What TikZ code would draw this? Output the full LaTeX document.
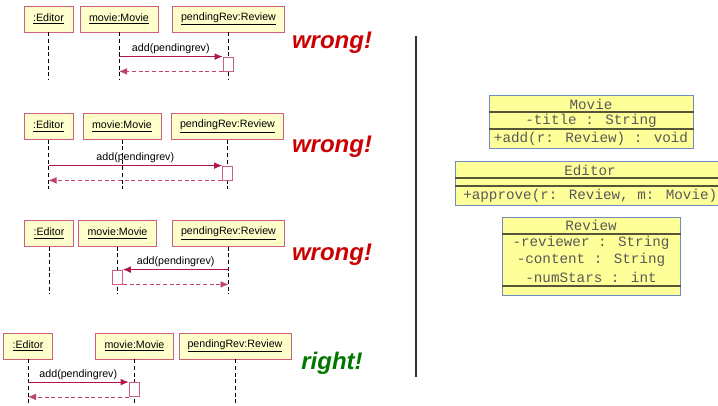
\documentclass[tikz,border=0pt]{standalone}
\usepackage{fontspec}
\setmainfont{Liberation Sans}
\newfontfamily\classfont{Liberation Mono}
\usepackage{xcolor}
\usepackage{tikz}
\usetikzlibrary{arrows.meta,positioning,calc}

\definecolor{objfill}{RGB}{255,255,204}
\definecolor{objline}{RGB}{205,95,125}
\definecolor{msgcol}{RGB}{175,20,75}
\definecolor{wrongred}{RGB}{204,0,0}
\definecolor{rightgreen}{RGB}{0,120,0}
\definecolor{classfill}{RGB}{255,255,153}
\definecolor{classline}{RGB}{110,140,190}
\definecolor{sepcol}{RGB}{85,85,55}

\begin{document}
\begin{tikzpicture}[x=0.75pt, y=-0.75pt,
    objbox/.style={draw=objline, fill=objfill, minimum height=19.5pt, inner sep=1pt, font=\fontsize{8}{9}\selectfont},
    editorbox/.style={objbox, minimum width=36.75pt},
    moviebox/.style={objbox, minimum width=58.5pt},
    reviewbox/.style={objbox, minimum width=84pt},
    lifeline/.style={draw=black, line width=0.5pt, dash pattern=on 3pt off 2pt},
    actbox/.style={draw=objline, fill=white, minimum width=7.5pt, minimum height=10.5pt, inner sep=0pt, line width=0.6pt},
    msg/.style={-{Latex[length=6pt,width=5pt]}, draw=msgcol, line width=0.6pt},
    ret/.style={-{Latex[length=6pt,width=5pt]}, draw=msgcol!80, line width=0.6pt, dash pattern=on 3pt off 2pt},
    msglabel/.style={above, inner sep=1.5pt, font=\fontsize{8}{9}\selectfont},
    verdict/.style={font=\fontsize{18}{20}\selectfont\bfseries\itshape},
    classbox/.style={draw=classline, fill=classfill, line width=0.6pt, inner sep=0pt, anchor=north west},
    classtext/.style={font=\classfont\fontsize{10.7}{12}\selectfont, text=black!65, inner sep=0pt},
    sepline/.style={draw=sepcol, line width=0.8pt}
]
    \useasboundingbox (0,0) rectangle (718,405);
    \clip (0,0) rectangle (718,405);

    % first attempt
    \node[editorbox] (e1) at (48.5,19) {\underline{:Editor}};
    \node[moviebox] (m1) at (119,19) {\underline{movie:Movie}};
    \node[reviewbox] (r1) at (228.5,19) {\underline{pendingRev:Review}};
    \coordinate (e1end) at (e1 |- 0,80);
    \coordinate (m1end) at (m1 |- 0,80);
    \coordinate (r1end) at (r1 |- 0,80);
    \draw[lifeline] (e1) -- (e1end);
    \draw[lifeline] (m1) -- (m1end);
    \draw[lifeline] (r1) -- (r1end);
    \node[actbox] (a1) at (228,64) {};
    \draw[msg] (m1 |- a1.north) -- node[msglabel] {add(pendingrev)} (a1.north west);
    \draw[ret] (a1.south west) -- (m1 |- a1.south);
    \node[verdict, text=wrongred] (v1) at (332,43) {wrong!};

    % second attempt
    \node[editorbox] (e2) at (48.5,126.5) {\underline{:Editor}};
    \node[moviebox] (m2) at (122,126.5) {\underline{movie:Movie}};
    \node[reviewbox] (r2) at (227.5,126.5) {\underline{pendingRev:Review}};
    \coordinate (e2end) at (e2 |- 0,189);
    \coordinate (m2end) at (m2 |- 0,189);
    \coordinate (r2end) at (r2 |- 0,189);
    \draw[lifeline] (e2) -- (e2end);
    \draw[lifeline] (m2) -- (m2end);
    \draw[lifeline] (r2) -- (r2end);
    \node[actbox] (a2) at (227.5,173) {};
    \draw[msg] (e2 |- a2.north) -- node[msglabel] {add(pendingrev)} (a2.north west);
    \draw[ret] (a2.south west) -- (e2 |- a2.south);
    \node[verdict, text=wrongred] (v2) at (332,147) {wrong!};

    % third attempt
    \node[editorbox] (e3) at (49,233.5) {\underline{:Editor}};
    \node[moviebox] (m3) at (117.5,233.5) {\underline{movie:Movie}};
    \node[reviewbox] (r3) at (228.5,233.5) {\underline{pendingRev:Review}};
    \coordinate (e3end) at (e3 |- 0,294);
    \coordinate (m3end) at (m3 |- 0,294);
    \coordinate (r3end) at (r3 |- 0,294);
    \draw[lifeline] (e3) -- (e3end);
    \draw[lifeline] (m3) -- (m3end);
    \draw[lifeline] (r3) -- (r3end);
    \node[actbox] (a3) at (117.5,277) {};
    \draw[msg] (r3 |- a3.north) -- node[msglabel] {add(pendingrev)} (a3.north east);
    \draw[ret] (a3.south east) -- (r3 |- a3.south);
    \node[verdict, text=wrongred] (v3) at (332,255) {wrong!};

    % the right one
    \node[editorbox] (e4) at (28,346) {\underline{:Editor}};
    \node[moviebox] (m4) at (134.5,346) {\underline{movie:Movie}};
    \node[reviewbox] (r4) at (235,346) {\underline{pendingRev:Review}};
    \coordinate (e4end) at (e4 |- 0,405);
    \coordinate (m4end) at (m4 |- 0,405);
    \coordinate (r4end) at (r4 |- 0,405);
    \draw[lifeline] (e4) -- (e4end);
    \draw[lifeline] (m4) -- (m4end);
    \draw[lifeline] (r4) -- (r4end);
    \node[actbox] (a4) at (134,389.5) {};
    \draw[msg] (e4 |- a4.north) -- node[msglabel] {add(pendingrev)} (a4.north west);
    \draw[ret] (a4.south west) -- (e4 |- a4.south);
    \node[verdict, text=rightgreen] (v4) at (332,363) {right!};

    % divider
    \draw[line width=0.8pt, black!80] (416,36) -- (416,377);

    % class diagram
    \node[classbox, minimum width=153pt, minimum height=39.75pt] (movie) at (489,95) {};
    \draw[sepline] ($(movie.north west)+(0,17)$) -- ($(movie.north east)+(0,17)$);
    \draw[sepline] ($(movie.north west)+(0,34)$) -- ($(movie.north east)+(0,34)$);
    \node[classtext] (movietitle) at (591,104) {Movie};
    \node[classtext] (movieattr) at (591,121) {-title : String};
    \node[classtext] (movieop) at (591,138.5) {+add(r: Review) : void};

    \node[classbox, minimum width=202pt, minimum height=33pt] (editor) at (455,161) {};
    \draw[sepline] ($(editor.north west)+(0,17)$) -- ($(editor.north east)+(0,17)$);
    \draw[sepline] ($(editor.north west)+(0,25)$) -- ($(editor.north east)+(0,25)$);
    \node[classtext] (editortitle) at (590,170) {Editor};
    \node[classtext, anchor=west] (editorop) at (463,195.5) {+approve(r: Review, m: Movie)};

    \node[classbox, minimum width=133.5pt, minimum height=58.5pt] (review) at (502,217) {};
    \draw[sepline] ($(review.north west)+(0,17)$) -- ($(review.north east)+(0,17)$);
    \draw[sepline] ($(review.north west)+(0,69)$) -- ($(review.north east)+(0,69)$);
    \node[classtext] (reviewtitle) at (591,225.5) {Review};
    \node[classtext] (reviewattr1) at (591,243) {-reviewer : String};
    \node[classtext] (reviewattr2) at (591,260) {-content : String};
    \node[classtext] (reviewattr3) at (591,277) {-numStars : int};
\end{tikzpicture}
\end{document}
